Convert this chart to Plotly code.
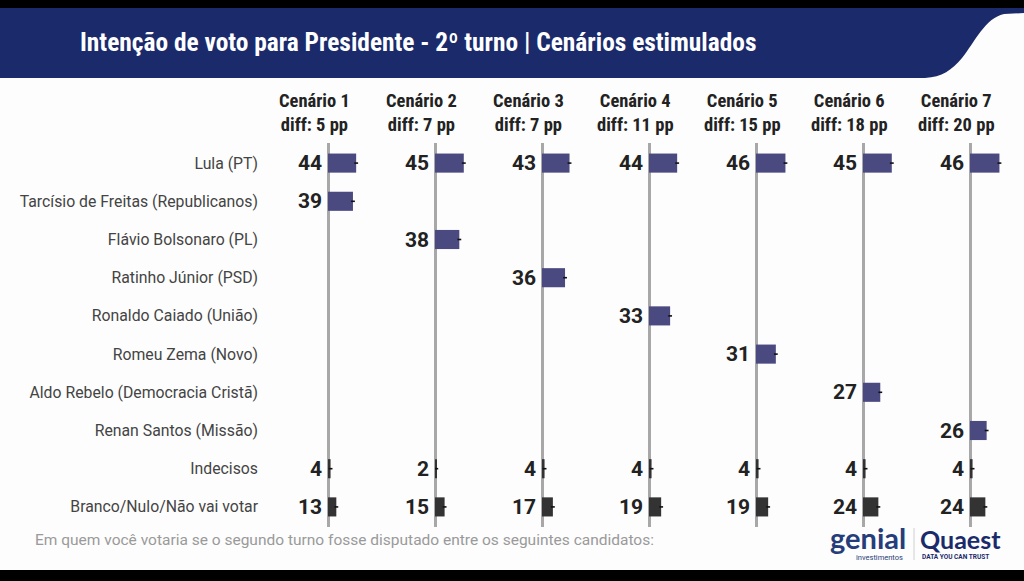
import plotly.graph_objects as go

# data
rows = [
    "Lula (PT)",
    "Tarcísio de Freitas (Republicanos)",
    "Flávio Bolsonaro (PL)",
    "Ratinho Júnior (PSD)",
    "Ronaldo Caiado (União)",
    "Romeu Zema (Novo)",
    "Aldo Rebelo (Democracia Cristã)",
    "Renan Santos (Missão)",
    "Indecisos",
    "Branco/Nulo/Não vai votar",
]
scenarios = ["Cenário 1", "Cenário 2", "Cenário 3", "Cenário 4", "Cenário 5", "Cenário 6", "Cenário 7"]
lula = [44, 45, 43, 44, 46, 45, 46]
opponents = rows[1:8]
opponent_votes = [39, 38, 36, 33, 31, 27, 26]
indecisos = [4, 2, 4, 4, 4, 4, 4]
branco_nulo = [13, 15, 17, 19, 19, 24, 24]
margin_of_error = 3

W, H = 1024, 581
NAVY = "#1b2a6b"
BAR = "#4b4a80"
DARK = "#333333"
COND = "Roboto Condensed, Liberation Sans Narrow, DejaVu Sans Condensed, Arial Narrow, sans-serif"


def px(x):
    return x / W


def py(y):
    return 1 - y / H


fig = go.Figure()
notes = []

# one small x axis per scenario, all sharing the same y axis
zero_px = [328 + 107 * k for k in range(7)]
col_w = 50
px_per_unit = 0.64

for k, name in enumerate(scenarios):
    ax = "x" if k == 0 else f"x{k + 1}"
    ys = ["Lula (PT)", opponents[k], "Indecisos", "Branco/Nulo/Não vai votar"]
    xs = [lula[k], opponent_votes[k], indecisos[k], branco_nulo[k]]
    fig.add_trace(go.Bar(
        x=xs, y=ys, orientation="h", xaxis=ax, yaxis="y",
        marker=dict(color=[BAR, BAR, DARK, DARK], line=dict(width=0)),
        width=0.5,
        error_x=dict(type="constant", value=margin_of_error, color="#111111", thickness=1.6, width=0),
        showlegend=False, hoverinfo="x+y",
    ))
    # value labels sit left of the zero line
    for yv, xv in zip(ys, xs):
        notes.append(dict(
            xref=ax, yref="y", x=0, y=yv, xshift=-4, xanchor="right", yanchor="middle",
            text=f"<b>{xv}</b>", showarrow=False,
            font=dict(family="Roboto, sans-serif", size=21, color="#222222"),
        ))
    key = "xaxis" if k == 0 else f"xaxis{k + 1}"
    fig.layout[key] = dict(
        domain=[px(zero_px[k]), px(zero_px[k] + col_w)],
        range=[0, col_w / px_per_unit],
        anchor="y", showgrid=False, showticklabels=False, ticks="",
        zeroline=True, zerolinecolor="#a8a8a8", zerolinewidth=2.5,
        fixedrange=True,
    )
    diff = lula[k] - opponent_votes[k]
    notes.append(dict(
        xref=ax, yref="paper", x=0, xshift=-14, y=py(113),
        text=f"<b>{name}<br>diff: {diff} pp</b>", showarrow=False,
        xanchor="center", yanchor="middle", align="center",
        font=dict(family=COND, size=18.5, color="#222222"),
    ))

fig.update_layout(
    width=W, height=H,
    margin=dict(l=0, r=0, t=0, b=0),
    paper_bgcolor="#fdfdfd", plot_bgcolor="rgba(0,0,0,0)",
    bargap=0.5,
    yaxis=dict(
        domain=[py(527), py(143)],
        range=[9.526, -0.526],
        categoryorder="array", categoryarray=rows,
        anchor="free", position=px(258), side="left",
        showgrid=False, zeroline=False, showline=False, ticks="",
        tickfont=dict(family="Roboto, sans-serif", size=15.8, color="#444444"),
        automargin=False, fixedrange=True,
    ),
    shapes=[
        dict(type="rect", xref="paper", yref="paper", x0=0, x1=1, y0=py(8), y1=1,
             fillcolor="#000000", line_width=0, layer="below"),
        dict(type="path", xref="paper", yref="paper",
             path=(f"M {px(0)},{py(8)} L {px(1024)},{py(8)} L {px(1024)},{py(13)} "
                   f"L {px(1004)},{py(14)} C {px(985)},{py(18)} {px(975)},{py(42)} {px(962)},{py(58)} "
                   f"C {px(952)},{py(70)} {px(942)},{py(77)} {px(925)},{py(78)} L {px(0)},{py(78)} Z"),
             fillcolor=NAVY, line_width=0, layer="below"),
        dict(type="rect", xref="paper", yref="paper", x0=0, x1=1, y0=0, y1=py(570),
             fillcolor="#000000", line_width=0, layer="below"),
        dict(type="line", xref="paper", yref="paper", x0=px(914), x1=px(914), y0=py(528), y1=py(560),
             line=dict(color="#d0d0d0", width=1)),
    ],
    annotations=notes + [
        dict(xref="paper", yref="paper", x=px(78), y=py(42), xanchor="left", yanchor="middle",
             text="<b>Intenção de voto para Presidente - 2º turno | Cenários estimulados</b>",
             showarrow=False, font=dict(family=COND, size=25.4, color="#ffffff")),
        dict(xref="paper", yref="paper", x=px(33), y=py(540), xanchor="left", yanchor="middle",
             text="Em quem você votaria se o segundo turno fosse disputado entre os seguintes candidatos:",
             showarrow=False, font=dict(family="Roboto, sans-serif", size=15.5, color="#9a9a9a")),
        dict(xref="paper", yref="paper", x=px(908), y=py(537), xanchor="right", yanchor="middle",
             text="<b>genial</b>", showarrow=False,
             font=dict(family="Lato, sans-serif", size=29, color="#263d7a")),
        dict(xref="paper", yref="paper", x=px(905), y=py(557), xanchor="right", yanchor="middle",
             text="investimentos", showarrow=False,
             font=dict(family="Roboto, sans-serif", size=7.5, color="#263d7a")),
        dict(xref="paper", yref="paper", x=px(918), y=py(539), xanchor="left", yanchor="middle",
             text="<b>Quaest</b>", showarrow=False,
             font=dict(family="Lato, sans-serif", size=25, color="#1b2a6b", weight=900)),
        dict(xref="paper", yref="paper", x=px(920), y=py(557), xanchor="left", yanchor="middle",
             text="<b>DATA YOU CAN TRUST</b>", showarrow=False,
             font=dict(family="Roboto, sans-serif", size=6.5, color="#1b2a6b")),
    ],
)

fig.write_html("out.html", config={"displayModeBar": False},
               post_script="document.body.style.margin='0';")
